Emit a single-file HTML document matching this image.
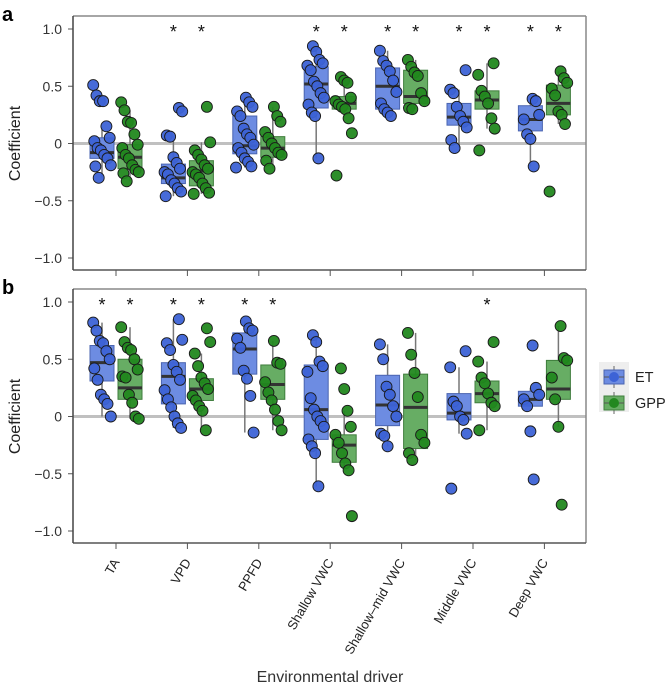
<!DOCTYPE html>
<html><head><meta charset="utf-8"><style>
body{margin:0;background:#fff;font-family:"Liberation Sans",sans-serif}
svg text{font-family:"Liberation Sans",sans-serif}
</style></head><body>
<svg id="c" width="672" height="685" xmlns="http://www.w3.org/2000/svg"></svg>
<script>
const categories=["TA","VPD","PPFD","Shallow VWC","Shallow\u2013mid VWC","Middle VWC","Deep VWC"];
const yTicks=[1.0,0.5,0,-0.5,-1.0];
const yTickLabels=["1.0","0.5","0","\u22120.5","\u22121.0"];
// panel a
const aET=[[0.51,0.42,0.37,0.37,0.15,0.05,0.02,-0.04,-0.06,-0.10,-0.13,-0.19,-0.2,-0.3],[0.31,0.28,0.07,0.06,-0.12,-0.17,-0.22,-0.25,-0.27,-0.32,-0.35,-0.39,-0.42,-0.46],[0.4,0.36,0.32,0.28,0.24,0.13,0.08,0.05,-0.01,-0.04,-0.08,-0.13,-0.16,-0.2,-0.21],[0.85,0.8,0.73,0.7,0.68,0.64,0.54,0.5,0.44,0.4,0.34,0.27,0.24,-0.13],[0.81,0.72,0.68,0.63,0.55,0.45,0.35,0.3,0.27,0.24],[0.64,0.47,0.44,0.32,0.24,0.19,0.14,0.03,-0.04],[0.39,0.37,0.25,0.21,0.08,0.04,-0.2]];
const aGPP=[[0.36,0.29,0.19,0.18,0.08,-0.01,-0.04,-0.1,-0.13,-0.19,-0.23,-0.25,-0.26,-0.33],[0.32,0.01,-0.06,-0.1,-0.14,-0.19,-0.22,-0.25,-0.27,-0.3,-0.35,-0.39,-0.43,-0.44],[0.32,0.24,0.19,0.1,0.05,0,-0.04,-0.08,-0.1,-0.15,-0.22],[0.58,0.55,0.53,0.4,0.37,0.34,0.32,0.3,0.22,0.09,-0.28],[0.73,0.67,0.62,0.59,0.44,0.37,0.31,0.3],[0.7,0.6,0.46,0.41,0.35,0.22,0.13,-0.06],[0.63,0.57,0.53,0.48,0.42,0.28,0.25,0.17,-0.42]];
const aETbox=[[-0.13,-0.08,0.05],[-0.35,-0.3,-0.18],[-0.09,-0.02,0.24],[0.31,0.52,0.67],[0.3,0.5,0.66],[0.16,0.23,0.35],[0.11,0.21,0.33]];
const aGPPbox=[[-0.22,-0.12,-0.01],[-0.37,-0.24,-0.15],[-0.12,-0.04,0.06],[0.3,0.35,0.41],[0.35,0.41,0.64],[0.3,0.38,0.46],[0.25,0.35,0.51]];
const aStarsET=[0,1,0,1,1,1,1], aStarsGPP=[0,1,0,1,1,1,1];
// panel b
const bET=[[0.82,0.75,0.66,0.64,0.57,0.5,0.42,0.32,0.19,0.15,0.11,0.0],[0.85,0.67,0.64,0.58,0.45,0.39,0.32,0.23,0.15,0.08,0.0,-0.06,-0.1],[0.83,0.77,0.75,0.68,0.6,0.4,0.33,0.18,-0.14],[0.71,0.65,0.48,0.44,0.39,0.16,0.06,0,-0.04,-0.09,-0.2,-0.26,-0.32,-0.61],[0.63,0.5,0.26,0.19,0.09,0,-0.15,-0.17,-0.26],[0.57,0.43,0.13,0.09,0,-0.03,-0.15,-0.63],[0.62,0.25,0.19,0.15,0.09,-0.13,-0.55]];
const bGPP=[[0.78,0.65,0.6,0.58,0.5,0.41,0.35,0.34,0.19,0.12,0.0,-0.02],[0.77,0.65,0.55,0.44,0.34,0.29,0.24,0.18,0.14,0.09,0.05,-0.12],[0.66,0.47,0.46,0.3,0.21,0.14,0.06,-0.04,-0.12],[0.42,0.24,0.05,-0.09,-0.16,-0.23,-0.32,-0.41,-0.47,-0.87],[0.73,0.54,0.38,0.17,-0.16,-0.23,-0.32,-0.38],[0.65,0.48,0.34,0.29,0.2,0.12,0.09,-0.12],[0.79,0.51,0.49,0.34,0.15,-0.09,-0.77]];
const bETbox=[[0.31,0.47,0.62],[0.11,0.35,0.47],[0.37,0.59,0.73],[-0.2,0.06,0.45],[-0.08,0.1,0.36],[-0.03,0.03,0.2],[0.09,0.15,0.22]];
const bGPPbox=[[0.15,0.25,0.5],[0.14,0.24,0.33],[0.15,0.28,0.45],[-0.4,-0.25,-0.16],[-0.28,0.08,0.37],[0.12,0.2,0.31],[0.15,0.24,0.49]];
const bStarsET=[1,1,1,0,0,0,0], bStarsGPP=[1,1,1,0,0,1,0];

const NS="http://www.w3.org/2000/svg", svg=document.getElementById('c');
function mk(t,a,p){const e=document.createElementNS(NS,t);for(const k in a)e.setAttribute(k,a[k]);(p||svg).appendChild(e);return e;}
const X0=73,X1=586,step=71.4;
function xC(i){return 116+i*step;}
const colET={pt:"#3d63d6",box:"#6d8ce2",boxs:"#4a64b0"}, colGPP={pt:"#22881f",box:"#67ad64",boxs:"#3f7d3c"};

function panel(top,name,ET,GPP,ETb,GPPb,sET,sGPP){
  const y0=top+127.5, sc=114.5;
  const y=v=>y0-v*sc;
  const g=mk('g',{});
  
  
  const zl=mk('line',{x1:X0,x2:X1,y1:y(0),y2:y(0),stroke:"#c0c0c0","stroke-width":3},g);
  
  yTicks.forEach((t,i)=>{
    mk('line',{x1:X0-5,x2:X0,y1:y(t),y2:y(t),stroke:"#555"},g);
    const tx=mk('text',{x:X0-11,y:y(t)+5,"text-anchor":"end","font-size":14,fill:"#333"},g);
    tx.textContent=yTickLabels[i];
    
  });
  categories.forEach((c,i)=>{mk('line',{x1:xC(i),x2:xC(i),y1:top+254,y2:top+260,stroke:"#555"},g);});
  [[ET,ETb,colET,-14,sET,'et'],[GPP,GPPb,colGPP,14,sGPP,'gpp']].forEach(([pts,bx,col,off,st,nm])=>{
    pts.forEach((arr,i)=>{
      const cx=xC(i)+off, [q1,md,q3]=bx[i], iqr=q3-q1;
      const inl=arr.filter(v=>v>=q1-1.5*iqr&&v<=q3+1.5*iqr);
      const lo=Math.min(q1,...inl), hi=Math.max(q3,...inl);
      mk('line',{x1:cx,x2:cx,y1:y(hi),y2:y(lo),stroke:"#777","stroke-width":1.5},g);
      const r=mk('rect',{x:cx-12,y:y(q3),width:24,height:Math.max(1,y(q1)-y(q3)),fill:col.box,stroke:col.boxs,"stroke-width":1},g);
      
      mk('line',{x1:cx-12,x2:cx+12,y1:y(md),y2:y(md),stroke:"#333","stroke-width":3},g);
      arr.forEach((v,k)=>{
        const jx=((k*37+i*13)%17-8)*1.1;
        const p=mk('circle',{cx:cx+jx,cy:y(v),r:5.5,fill:col.pt,stroke:"#1a1a1a","stroke-width":0.9,"fill-opacity":0.95},g);
        
      });
      if(st[i]){const s=mk('text',{x:cx,y:top+22,"text-anchor":"middle","font-size":18,fill:"#111"},g);s.textContent="*";
        }
    });
  });
  mk('line',{x1:X0,x2:X1,y1:top,y2:top,stroke:"#888","stroke-width":1.5},g);
  mk('line',{x1:X1,x2:X1,y1:top,y2:top+254,stroke:"#888","stroke-width":1.5},g);
  mk('line',{x1:X0,x2:X1,y1:top+254,y2:top+254,stroke:"#555","stroke-width":1.5},g);
  mk('line',{x1:X0,x2:X0,y1:top,y2:top+254,stroke:"#444","stroke-width":1.5},g);
  const yt=mk('text',{x:0,y:0,transform:`translate(20,${y0}) rotate(-90)`,"text-anchor":"middle","font-size":16,fill:"#222"},g);
  yt.textContent="Coefficient";
  
}
panel(16,'panel-a',aET,aGPP,aETbox,aGPPbox,aStarsET,aStarsGPP);
panel(289,'panel-b',bET,bGPP,bETbox,bGPPbox,bStarsET,bStarsGPP);
[["a",8],["b",281]].forEach(([t,yy])=>{const l=mk('text',{x:2,y:yy+13,"font-size":20,"font-weight":"bold",fill:"#000"});l.textContent=t;
  });
categories.forEach((c,i)=>{
  const t=mk('text',{x:0,y:0,transform:`translate(${xC(i)+4},${562}) rotate(-60)`,"text-anchor":"end","font-size":13,fill:"#222"});
  t.textContent=c;
  
});
const xt=mk('text',{x:330,y:682,"text-anchor":"middle","font-size":16,fill:"#333"});
xt.textContent="Environmental driver";

const lg=mk('g',{});

mk('rect',{x:599,y:362,width:30,height:50,fill:"#eee"},lg);
[["ET",colET,377],["GPP",colGPP,403]].forEach(([n,col,cy])=>{
  const e=mk('g',{},lg);
  
  mk('line',{x1:614,x2:614,y1:cy-11,y2:cy+11,stroke:"#666"},e);
  mk('rect',{x:604,y:cy-7,width:20,height:14,fill:col.box,stroke:col.boxs},e);
  mk('line',{x1:604,x2:624,y1:cy,y2:cy,stroke:"#555"},e);
  mk('circle',{cx:614,cy:cy,r:5,fill:col.pt},e);
  const t=mk('text',{x:635,y:cy+5,"font-size":14.5,fill:"#222"},e);t.textContent=n;
});
</script>
</body></html>
